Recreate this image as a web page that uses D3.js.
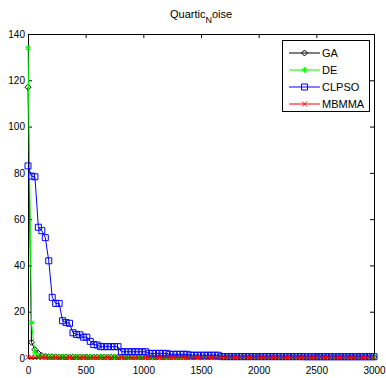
<!DOCTYPE html>
<html>
<head>
<meta charset="utf-8">
<script src="https://cdn.jsdelivr.net/npm/d3@7"></script>
<style>
  html, body { margin: 0; padding: 0; background: #fff; }
  svg { display: block; }
  text { font-family: "Liberation Sans", Arial, Helvetica, sans-serif; fill: #000; }
</style>
</head>
<body>
<svg id="chart" width="386" height="378"></svg>
<script>
// ---- data (sampled every 30 iterations, 0..3000) ----
const iterations = d3.range(0, 3001, 30);
const xTicks = [0, 500, 1000, 1500, 2000, 2500, 3000];
const yTicks = [0, 20, 40, 60, 80, 100, 120, 140];
const seriesNames = ["GA", "DE", "CLPSO", "MBMMA"];

const gaValues = [
  117, 6.8, 3.6, 2.0, 1.0, 0.7, 0.55, 0.5, 0.5, 0.45,
  0.45, 0.45, 0.44, 0.44, 0.44, 0.43, 0.43, 0.43, 0.43, 0.42,
  0.42, 0.42, 0.42, 0.42, 0.42, 0.42, 0.42, 0.42, 0.42, 0.42,
  0.42, 0.42, 0.41, 0.41, 0.41, 0.41, 0.41, 0.41, 0.41, 0.41,
  0.41, 0.41, 0.41, 0.41, 0.41, 0.41, 0.41, 0.41, 0.41, 0.41,
  0.41, 0.41, 0.41, 0.41, 0.41, 0.41, 0.41, 0.41, 0.41, 0.41,
  0.40, 0.40, 0.40, 0.40, 0.40, 0.40, 0.40, 0.40, 0.40, 0.40,
  0.40, 0.40, 0.40, 0.40, 0.40, 0.40, 0.40, 0.40, 0.40, 0.40,
  0.40, 0.40, 0.40, 0.40, 0.40, 0.40, 0.40, 0.40, 0.40, 0.40,
  0.40, 0.40, 0.40, 0.40, 0.40, 0.40, 0.40, 0.40, 0.40, 0.40,
  0.40
];
const deValues = [
  134, 15.3, 2.2, 0.9, 0.6, 0.5, 0.48, 0.46, 0.45, 0.45,
  0.44, 0.44, 0.44, 0.44, 0.43, 0.43, 0.43, 0.43, 0.43, 0.43,
  0.42, 0.42, 0.42, 0.42, 0.42, 0.42, 0.42, 0.42, 0.42, 0.42,
  0.42, 0.42, 0.42, 0.41, 0.41, 0.41, 0.41, 0.41, 0.41, 0.41,
  0.41, 0.41, 0.41, 0.41, 0.41, 0.41, 0.41, 0.41, 0.41, 0.41,
  0.41, 0.41, 0.41, 0.41, 0.41, 0.41, 0.41, 0.41, 0.41, 0.41,
  0.40, 0.40, 0.40, 0.40, 0.40, 0.40, 0.40, 0.40, 0.40, 0.40,
  0.40, 0.40, 0.40, 0.40, 0.40, 0.40, 0.40, 0.40, 0.40, 0.40,
  0.40, 0.40, 0.40, 0.40, 0.40, 0.40, 0.40, 0.40, 0.40, 0.40,
  0.40, 0.40, 0.40, 0.40, 0.40, 0.40, 0.40, 0.40, 0.40, 0.40,
  0.40
];
const clpsoValues = [
  83, 78.6, 78.3, 56.5, 55, 52, 42, 26.2, 23.6, 23.6,
  16.1, 15.3, 15, 10.9, 10.2, 10, 9, 9, 7.2, 5.8,
  5.6, 4.9, 4.9, 4.9, 4.9, 4.9, 4.9, 2.7, 2.7, 2.7,
  2.7, 2.7, 2.7, 2.7, 2.7, 2.0, 2.0, 2.0, 2.0, 2.0,
  2.0, 1.6, 1.6, 1.6, 1.6, 1.6, 1.6, 1.2, 1.2, 1.2,
  1.2, 1.2, 1.2, 1.2, 1.2, 1.2, 0.6, 0.6, 0.6, 0.6,
  0.6, 0.6, 0.6, 0.6, 0.6, 0.6, 0.6, 0.6, 0.6, 0.6,
  0.6, 0.6, 0.6, 0.6, 0.6, 0.6, 0.6, 0.6, 0.6, 0.6,
  0.55, 0.55, 0.55, 0.55, 0.55, 0.55, 0.55, 0.55, 0.55, 0.55,
  0.55, 0.55, 0.55, 0.55, 0.55, 0.55, 0.55, 0.55, 0.55, 0.55,
  0.55
];
const mbmmaValues = [
  0.3, 0.28, 0.27, 0.26, 0.25, 0.24, 0.24, 0.23, 0.23, 0.22,
  0.22, 0.22, 0.21, 0.21, 0.21, 0.21, 0.2, 0.2, 0.2, 0.2,
  0.2, 0.2, 0.2, 0.2, 0.2, 0.2, 0.2, 0.2, 0.2, 0.2,
  0.2, 0.2, 0.2, 0.2, 0.2, 0.2, 0.2, 0.2, 0.2, 0.2,
  0.2, 0.2, 0.2, 0.2, 0.2, 0.2, 0.2, 0.2, 0.2, 0.2,
  0.2, 0.2, 0.2, 0.2, 0.2, 0.2, 0.2, 0.2, 0.2, 0.2,
  0.2, 0.2, 0.2, 0.2, 0.2, 0.2, 0.2, 0.2, 0.2, 0.2,
  0.2, 0.2, 0.2, 0.2, 0.2, 0.2, 0.2, 0.2, 0.2, 0.2,
  0.2, 0.2, 0.2, 0.2, 0.2, 0.2, 0.2, 0.2, 0.2, 0.2,
  0.2, 0.2, 0.2, 0.2, 0.2, 0.2, 0.2, 0.2, 0.2, 0.2,
  0.2
];

// ---- chart ----
const svg = d3.select("#chart");
svg.append("rect").attr("width", 386).attr("height", 378).attr("fill", "#fff");

const L = 28, R = 374, T = 34, B = 358;
const x = d3.scaleLinear().domain([0, 3000]).range([L, R]);
const y = d3.scaleLinear().domain([0, 140]).range([B, T]);

const series = [
  { name: seriesNames[0], values: gaValues, color: "#000000", marker: "diamond" },
  { name: seriesNames[1], values: deValues, color: "#00ff00", marker: "star" },
  { name: seriesNames[2], values: clpsoValues, color: "#0000ff", marker: "square" },
  { name: seriesNames[3], values: mbmmaValues, color: "#ff0000", marker: "cross" }
];

function markerPath(type) {
  switch (type) {
    case "diamond": return "M0,-3L3,0L0,3L-3,0Z";
    case "star": return "M-3,0L3,0M0,-3L0,3M-2.2,-2.2L2.2,2.2M-2.2,2.2L2.2,-2.2";
    case "square": return "M-3,-3L3,-3L3,3L-3,3Z";
    case "cross": return "M-2.5,-2.5L2.5,2.5M-2.5,2.5L2.5,-2.5";
  }
}

// axes (box style, ticks inside)
const fontSize = 10;
const fmt = d3.format("d");
const gB = svg.append("g").attr("transform", `translate(0,${B})`)
  .call(d3.axisBottom(x).tickValues(xTicks).tickFormat(fmt).tickSize(-4).tickSizeOuter(0).tickPadding(9));
const gT = svg.append("g").attr("transform", `translate(0,${T})`)
  .call(d3.axisTop(x).tickValues(xTicks).tickSize(-4).tickSizeOuter(0).tickFormat(""));
const gLft = svg.append("g").attr("transform", `translate(${L},0)`)
  .call(d3.axisLeft(y).tickValues(yTicks).tickFormat(fmt).tickSize(-4).tickSizeOuter(0).tickPadding(3));
const gRt = svg.append("g").attr("transform", `translate(${R},0)`)
  .call(d3.axisRight(y).tickValues(yTicks).tickSize(-4).tickSizeOuter(0).tickFormat(""));
[gB, gT, gLft, gRt].forEach(g => {
  g.selectAll("path.domain").attr("stroke", "#000").attr("stroke-width", 1);
  g.selectAll(".tick line").attr("stroke", "#000");
  g.selectAll("text").attr("font-size", fontSize).attr("font-family", null).attr("fill", "#000");
});

// series
const line = d3.line().x((d, i) => x(iterations[i])).y(d => y(d));
series.forEach(s => {
  const g = svg.append("g");
  g.append("path").datum(s.values)
    .attr("d", line).attr("fill", "none").attr("stroke", s.color).attr("stroke-width", 1);
  g.selectAll("path.m").data(s.values).enter().append("path")
    .attr("class", "m")
    .attr("transform", (d, i) => `translate(${x(iterations[i])},${y(d)})`)
    .attr("d", markerPath(s.marker))
    .attr("fill", "none").attr("stroke", s.color).attr("stroke-width", 1);
});

// title
const title = svg.append("text").attr("x", 170).attr("y", 18).attr("font-size", 11);
title.append("tspan").text("Quartic");
title.append("tspan").attr("font-size", 9).attr("dy", 5).text("N");
title.append("tspan").attr("dy", -5).text("oise");

// legend
const lg = svg.append("g");
lg.append("rect").attr("x", 282.5).attr("y", 40.5).attr("width", 87).attr("height", 71)
  .attr("fill", "#fff").attr("stroke", "#000").attr("stroke-width", 1);
const legY = [53, 70, 87, 104];
series.forEach((s, i) => {
  const yy = legY[i];
  lg.append("line").attr("x1", 289).attr("x2", 320).attr("y1", yy).attr("y2", yy)
    .attr("stroke", s.color).attr("stroke-width", 1);
  lg.append("path").attr("transform", `translate(304.5,${yy})`).attr("d", markerPath(s.marker))
    .attr("fill", "none").attr("stroke", s.color).attr("stroke-width", 1);
  lg.append("text").attr("x", 322).attr("y", yy + 4).attr("font-size", 11).text(s.name);
});
</script>
</body>
</html>
